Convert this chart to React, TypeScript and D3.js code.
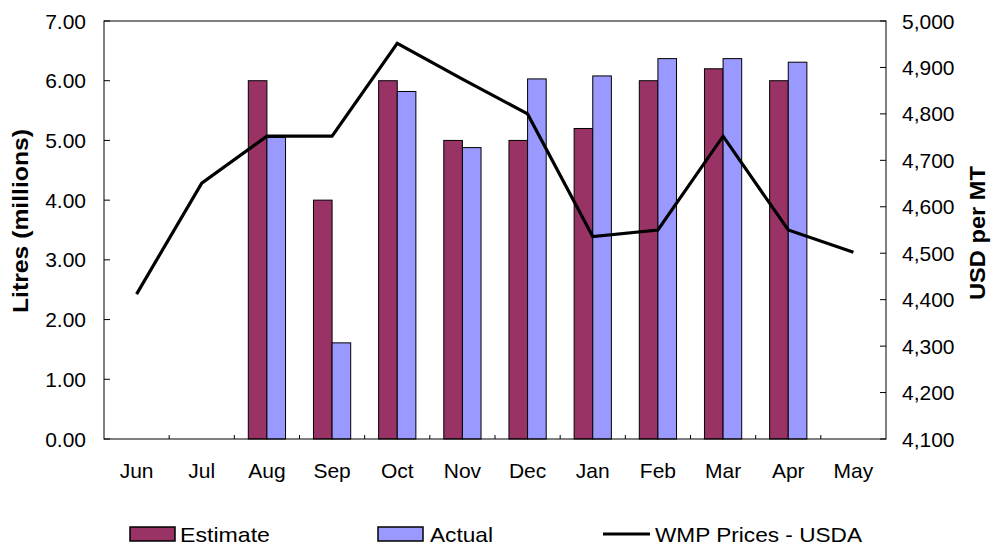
import React from "react";
import * as d3 from "d3";

const months = ["Jun", "Jul", "Aug", "Sep", "Oct", "Nov", "Dec", "Jan", "Feb", "Mar", "Apr", "May"];
const estimate: (number | null)[] = [null, null, 6.0, 4.0, 6.0, 5.0, 5.0, 5.2, 6.0, 6.2, 6.0, null];
const actual: (number | null)[] = [null, null, 5.05, 1.61, 5.82, 4.88, 6.03, 6.08, 6.37, 6.37, 6.31, null];
const wmpPrices: number[] = [4412, 4651, 4752, 4752, 4952, 4875, 4800, 4536, 4550, 4752, 4550, 4502];
const leftTicks = [0, 1, 2, 3, 4, 5, 6, 7];
const rightTicks = [4100, 4200, 4300, 4400, 4500, 4600, 4700, 4800, 4900, 5000];

const W = 991;
const H = 547;
const L = 104;
const R = 886;
const T = 21;
const B = 439;
const FONT = "'Liberation Sans', Arial, sans-serif";

export default function App() {
  const x = d3.scaleBand<string>().domain(months).range([L, R]).paddingInner(0).paddingOuter(0);
  const yL = d3.scaleLinear().domain([0, 7]).range([B, T]);
  const yR = d3.scaleLinear().domain([4100, 5000]).range([B, T]);
  const bw = x.bandwidth() / 3.5;
  const cx = (m: string) => (x(m) as number) + x.bandwidth() / 2;
  const line = d3
    .line<number>()
    .x((_, i) => cx(months[i]))
    .y((d) => yR(d));
  const fmtL = d3.format(".2f");
  const fmtR = d3.format(",");

  return (
    <svg width={W} height={H} style={{ position: "absolute", left: 0, top: 0, background: "#fff" }} fontFamily={FONT}>
      <rect x={0} y={0} width={W} height={H} fill="#fff" />
      {/* bars */}
      {months.map((m, i) => (
        <g key={m}>
          {estimate[i] != null && (
            <rect
              x={cx(m) - bw}
              y={yL(estimate[i] as number)}
              width={bw}
              height={B - yL(estimate[i] as number)}
              fill="#993366"
              stroke="#000"
              strokeWidth={1}
            />
          )}
          {actual[i] != null && (
            <rect
              x={cx(m)}
              y={yL(actual[i] as number)}
              width={bw}
              height={B - yL(actual[i] as number)}
              fill="#9999FF"
              stroke="#000"
              strokeWidth={1}
            />
          )}
        </g>
      ))}
      {/* frame */}
      <rect x={L} y={T} width={R - L} height={B - T} fill="none" stroke="#000" strokeWidth={1} />
      {/* left ticks */}
      {leftTicks.map((t) => (
        <g key={"l" + t}>
          <line x1={L} x2={L + 6} y1={yL(t)} y2={yL(t)} stroke="#000" />
          <text x={86} y={yL(t)} dy="0.36em" textAnchor="end" fontSize={21} fill="#000">
            {fmtL(t)}
          </text>
        </g>
      ))}
      {/* right ticks */}
      {rightTicks.map((t) => (
        <g key={"r" + t}>
          <line x1={R - 6} x2={R} y1={yR(t)} y2={yR(t)} stroke="#000" />
          <text x={902} y={yR(t)} dy="0.36em" textAnchor="start" fontSize={21} fill="#000">
            {fmtR(t)}
          </text>
        </g>
      ))}
      {/* bottom ticks */}
      {months.slice(1).map((m) => (
        <line key={"b" + m} x1={x(m) as number} x2={x(m) as number} y1={B - 4} y2={B} stroke="#000" />
      ))}
      {months.map((m) => (
        <text key={"xl" + m} x={cx(m)} y={478} textAnchor="middle" fontSize={21} fill="#000">
          {m}
        </text>
      ))}
      {/* line */}
      <path d={line(wmpPrices) as string} fill="none" stroke="#000" strokeWidth={3.2} strokeLinejoin="miter" />
      {/* axis titles */}
      <text
        transform={`translate(28,221) rotate(-90)`}
        textAnchor="middle"
        fontSize={22}
        fontWeight="bold"
        fill="#000"
        textLength={184}
        lengthAdjust="spacingAndGlyphs"
      >
        Litres (millions)
      </text>
      <text
        transform={`translate(985,233) rotate(-90)`}
        textAnchor="middle"
        fontSize={22}
        fontWeight="bold"
        fill="#000"
        textLength={134}
        lengthAdjust="spacingAndGlyphs"
      >
        USD per MT
      </text>
      {/* legend */}
      <rect x={130} y={527} width={45} height={14} fill="#993366" stroke="#000" strokeWidth={1.5} />
      <text x={180} y={542} fontSize={21} fill="#000" textLength={90} lengthAdjust="spacingAndGlyphs">Estimate</text>
      <rect x={378} y={527} width={45} height={14} fill="#9999FF" stroke="#000" strokeWidth={1.5} />
      <text x={430} y={542} fontSize={21} fill="#000" textLength={63} lengthAdjust="spacingAndGlyphs">Actual</text>
      <line x1={603} x2={650} y1={534} y2={534} stroke="#000" strokeWidth={3} />
      <text x={655} y={542} fontSize={21} fill="#000" textLength={207} lengthAdjust="spacingAndGlyphs">WMP Prices - USDA</text>
    </svg>
  );
}
